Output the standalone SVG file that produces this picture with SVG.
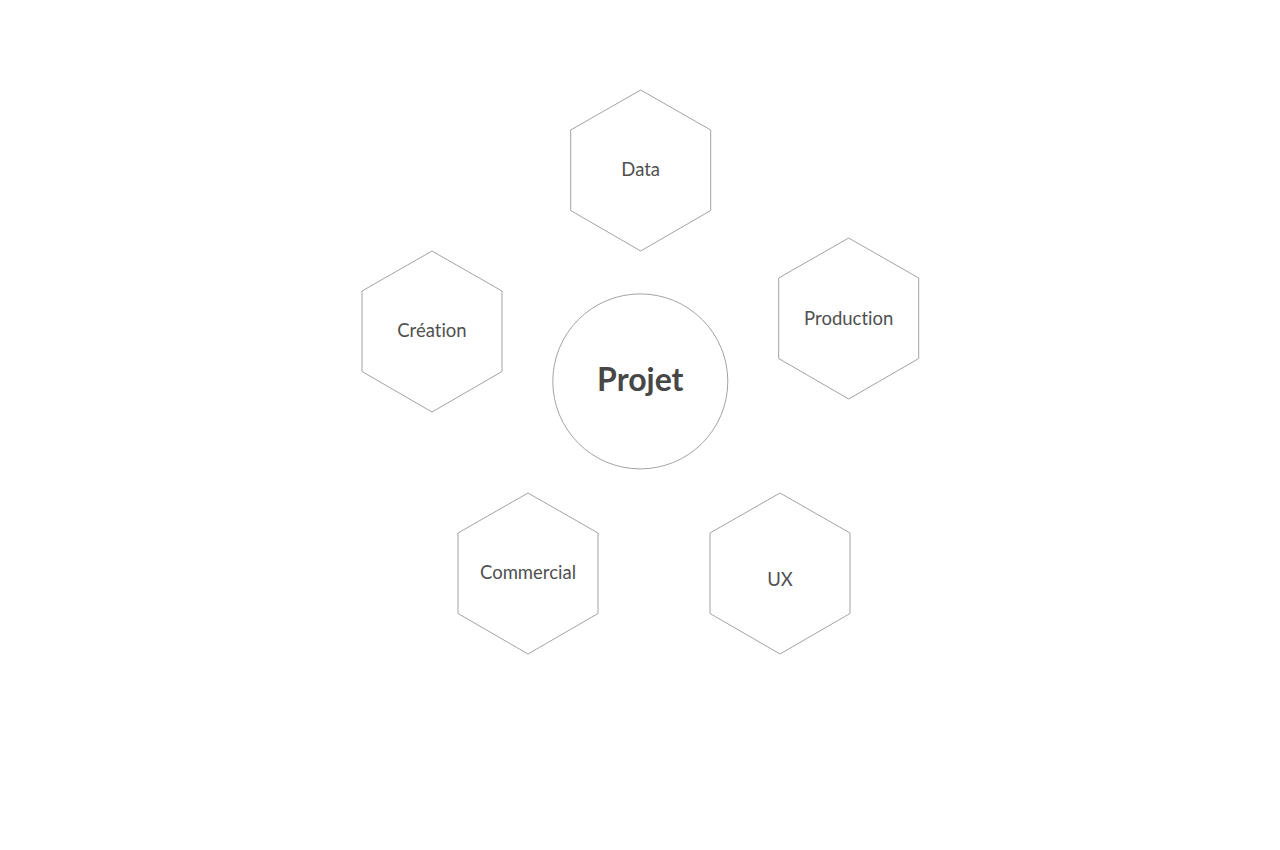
<svg xmlns="http://www.w3.org/2000/svg" width="1280" height="850" viewBox="0 0 1280 850">
<defs>
<style>
.hex{fill:#fff;stroke:#a3a3a3;stroke-width:1}
.lbl{font-family:Lato,"Noto Sans",sans-serif;font-size:18.5px;fill:#505050;text-anchor:middle;dominant-baseline:central;font-variant-ligatures:none}
.main{font-family:Lato,"Noto Sans",sans-serif;font-size:32px;font-weight:bold;fill:#474747;text-anchor:middle;dominant-baseline:central}
</style>
<polygon id="hx" points="0,-80.5 70,-40.5 70,40 0,80.5 -70,40 -70,-40.5"/>
</defs>
<rect width="1280" height="850" fill="#fff"/>
<g id="connectors"></g>
<g id="projet">
<circle cx="640.3" cy="381.4" r="87.5" fill="#fff" stroke="#a3a3a3" stroke-width="1"/>
<text class="main" x="640.3" y="378.5">Projet</text>
</g>
<g id="data">
<use href="#hx" class="hex" x="640.7" y="170.5"/>
<text class="lbl" x="640.7" y="168.5">Data</text>
</g>
<g id="production">
<use href="#hx" class="hex" x="848.7" y="318.5"/>
<text class="lbl" x="848.7" y="317.5">Production</text>
</g>
<g id="creation">
<use href="#hx" class="hex" x="432" y="331.5"/>
<text class="lbl" x="432" y="329.5">Création</text>
</g>
<g id="commercial">
<use href="#hx" class="hex" x="528" y="573.5"/>
<text class="lbl" x="528" y="571.5">Commercial</text>
</g>
<g id="ux">
<use href="#hx" class="hex" x="780" y="573.5"/>
<text class="lbl" x="780" y="578.5">UX</text>
</g>
</svg>
